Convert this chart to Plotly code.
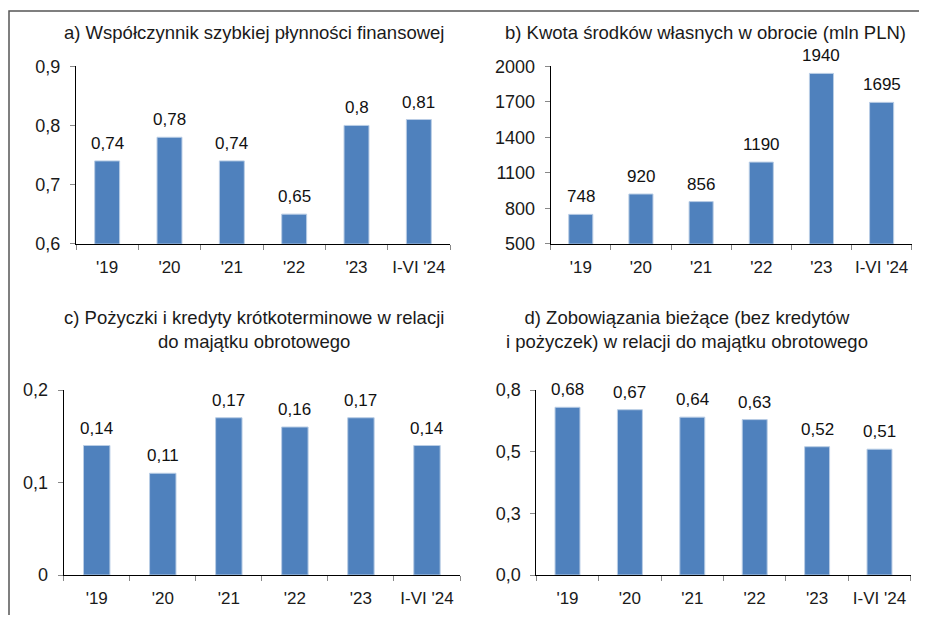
import plotly.graph_objects as go

# dane
okresy = ["'19", "'20", "'21", "'22", "'23", "I-VI '24"]
plynnosc = [0.74, 0.78, 0.74, 0.65, 0.80, 0.81]
srodki_wlasne = [748, 920, 856, 1190, 1940, 1695]
kredyty = [0.14, 0.11, 0.17, 0.16, 0.17, 0.14]
zobowiazania = [0.68, 0.67, 0.64, 0.63, 0.52, 0.51]

tytuly = [
    "a) Współczynnik szybkiej płynności finansowej",
    "b) Kwota środków własnych w obrocie (mln PLN)",
    "c) Pożyczki i kredyty krótkoterminowe w relacji<br>do majątku obrotowego",
    "d) Zobowiązania bieżące (bez kredytów<br>i pożyczek) w relacji do majątku obrotowego",
]

def fmt(v):
    if isinstance(v, int):
        return str(v)
    return ("%g" % v).replace(".", ",")

# strona ma 8 px marginesu body, wiec wykres jest mniejszy i przesuniety
OFF = 8
W, H = 927 - 2 * OFF, 623 - 2 * OFF
FONT = "Liberation Sans, Arial, sans-serif"
KOLOR = "#4f81bd"

def px_x(x):
    return (x - OFF) / W

def px_y(y):
    return (H - (y - OFF)) / H

# pozycje paneli w pikselach okna: (x0, x1, y_top, y_bottom)
panele = [
    (76, 450, 66.3, 243.7),
    (550.7, 911.7, 66.3, 243.7),
    (63.7, 460, 390, 575),
    (536.3, 910.7, 390, 575),
]
serie = [plynnosc, srodki_wlasne, kredyty, zobowiazania]
zakresy = [[0.6, 0.9], [500, 2000], [0, 0.2], [0, 0.75]]
ticki = [
    ([0.6, 0.7, 0.8, 0.9], ["0,6", "0,7", "0,8", "0,9"]),
    ([500, 800, 1100, 1400, 1700, 2000], ["500", "800", "1100", "1400", "1700", "2000"]),
    ([0, 0.1, 0.2], ["0", "0,1", "0,2"]),
    ([0, 0.25, 0.5, 0.75], ["0,0", "0,3", "0,5", "0,8"]),
]
tytul_y = [33, 33, 329, 329]   # srodek tytulu w px
tytul_x = [254, 705, 254, 687]

fig = go.Figure()
layout = dict(
    width=W, height=H,
    margin=dict(l=0, r=0, t=0, b=0),
    paper_bgcolor="white", plot_bgcolor="white",
    showlegend=False,
    bargap=0.6,
    font=dict(family=FONT, size=17, color="#1a1a1a"),
)

annotations = []
for i, (x0, x1, yt, yb) in enumerate(panele):
    n = "" if i == 0 else str(i + 1)
    fig.add_trace(go.Bar(
        x=okresy, y=serie[i],
        xaxis="x" + n, yaxis="y" + n,
        marker=dict(color=KOLOR, line=dict(color="#b9cde5", width=1)),
        hoverinfo="x+y",
    ))
    # etykiety wartosci nad slupkami
    for kat, v in zip(okresy, serie[i]):
        annotations.append(dict(
            text=fmt(v), x=kat, y=v, xref="x" + n, yref="y" + n,
            xanchor="center", yanchor="bottom", yshift=6, showarrow=False,
            font=dict(size=17, color="#111111"),
        ))
    layout["xaxis" + n] = dict(
        domain=[px_x(x0), px_x(x1)], anchor="y" + n,
        type="category", tickson="boundaries", tickangle=0,
        ticks="outside", ticklen=5, tickcolor="#888888",
        ticklabelstandoff=8,
        showline=True, linecolor="black", linewidth=1,
        showgrid=False, tickfont=dict(size=17), automargin=False,
    )
    layout["yaxis" + n] = dict(
        domain=[px_y(yb), px_y(yt)], anchor="x" + n,
        range=zakresy[i], tickvals=ticki[i][0], ticktext=ticki[i][1],
        ticks="outside", ticklen=5, tickcolor="#888888",
        ticklabelstandoff=6,
        showline=True, linecolor="black", linewidth=1,
        showgrid=False, zeroline=False, tickfont=dict(size=18),
        automargin=False,
    )
    annotations.append(dict(
        text=tytuly[i], xref="paper", yref="paper",
        x=px_x(tytul_x[i]), y=px_y(tytul_y[i]),
        xanchor="center", yanchor="middle", showarrow=False,
        font=dict(size=18.5, color="#1a1a1a"), align="center",
    ))

layout["annotations"] = annotations
layout["shapes"] = [dict(
    type="rect", xref="paper", yref="paper",
    x0=px_x(9), x1=1.05, y0=-0.05, y1=px_y(11),
    line=dict(color="#555555", width=1.5),
)]
fig.update_layout(**layout)

fig.write_html("out.html")
